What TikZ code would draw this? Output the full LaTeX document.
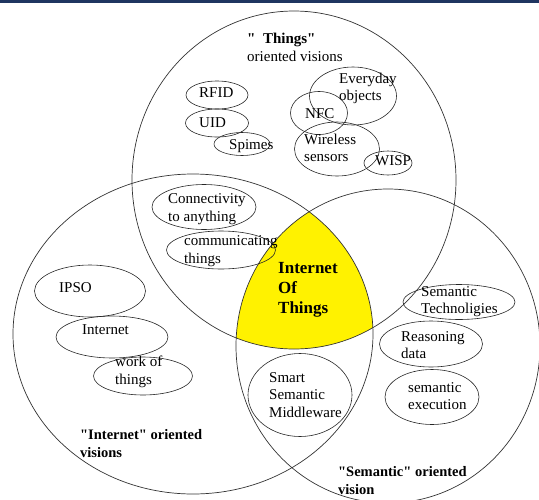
\documentclass[tikz,border=0pt]{standalone}
\usepackage{fontspec}
\setmainfont{Liberation Serif}[Ligatures=TeXOff]
\usetikzlibrary{shapes.geometric}
\definecolor{barblue}{RGB}{31,53,96}
\definecolor{iotyellow}{RGB}{255,242,0}
\tikzset{
  venn/.style={line width=0.7pt, draw=black!80},
  blob/.style={draw=black!85, line width=0.6pt, ellipse, inner sep=0pt},
  lbl/.style={font=\fontsize{15}{17.5}\selectfont, align=left, inner sep=0pt, anchor=west},
  head/.style={font=\bfseries\fontsize{14.5}{18}\selectfont, align=left, inner sep=0pt, anchor=west}
}

\begin{document}
\begin{tikzpicture}[x=1pt,y=-1pt]
      \useasboundingbox (0,0) rectangle (539,499);
      \fill[barblue] (0,0) rectangle (539,2.5);

      % yellow core = all three visions
      \begin{scope}
        \clip (294,180) ellipse [x radius=162pt, y radius=169pt];
        \clip (193,334) ellipse [x radius=180pt, y radius=160pt];
        \fill[iotyellow] (388,346) ellipse [x radius=152pt, y radius=157pt];
      \end{scope}

      % the three visions
      \draw[venn] (294,180) ellipse [x radius=162pt, y radius=169pt];
      \draw[venn] (193,334) ellipse [x radius=180pt, y radius=160pt];
      \draw[venn] (388,346) ellipse [x radius=152pt, y radius=157pt];

      % things
      \node[blob, minimum width=62pt, minimum height=28pt] (rfid) at (217,95) {};
      \node[blob, minimum width=63pt, minimum height=28pt] (uid) at (217,123) {};
      \node[blob, minimum width=56pt, minimum height=23pt] (spimes) at (242,144) {};
      \node[blob, minimum width=87pt, minimum height=58pt] (everyday) at (353,96) {};
      \node[blob, minimum width=57pt, minimum height=43pt] (nfc) at (319,113) {};
      \node[blob, minimum width=85pt, minimum height=54pt] (wireless) at (337,149) {};
      \node[blob, minimum width=48pt, minimum height=24pt] (wisp) at (388,163) {};
      \node[blob, minimum width=104pt, minimum height=45pt] (connect) at (204,207) {};
      \node[blob, minimum width=109pt, minimum height=38pt] (commthings) at (221,250) {};

      \node[lbl] (rfidtxt) at (199,93) {RFID};
      \node[lbl] (uidtxt) at (199,123) {UID};
      \node[lbl] (spimestxt) at (229,146) {Spimes};
      \node[lbl] (everydaytxt) at (339,88.5) {Everyday\\objects};
      \node[lbl] (nfctxt) at (305,114) {NFC};
      \node[lbl] (wirelesstxt) at (304,148) {Wireless\\sensors};
      \node[lbl] (wisptxt) at (375,161) {WISP};
      \node[lbl] (connecttxt) at (168,209) {Connectivity\\to anything};
      \node[lbl] (commtxt) at (184,251) {communicating\\things};

      % internet
      \node[blob, minimum width=111pt, minimum height=52pt] (ipso) at (90,291) {};
      \node[blob, minimum width=112pt, minimum height=42pt] (internet) at (112,337) {};
      \node[blob, minimum width=99pt, minimum height=38pt] (workof) at (143,376) {};

      \node[lbl] (ipsotxt) at (59,288) {IPSO};
      \node[lbl] (internettxt) at (82,330) {Internet};
      \node[lbl] (workoftxt) at (115,372) {work of\\things};

      % semantic
      \node[blob, minimum width=104pt, minimum height=83pt] (middleware) at (300,395) {};
      \node[blob, minimum width=112pt, minimum height=35pt] (semtech) at (459,302) {};
      \node[blob, minimum width=103pt, minimum height=46pt] (reasoning) at (431,344) {};
      \node[blob, minimum width=94pt, minimum height=55pt] (execution) at (432,397) {};

      \node[lbl] (middlewaretxt) at (269,395) {Smart\\Semantic\\Middleware};
      \node[lbl] (semtechtxt) at (421,301.5) {Semantic\\Technoligies};
      \node[lbl] (reasoningtxt) at (401,345) {Reasoning\\data};
      \node[lbl] (executiontxt) at (408,396) {semantic\\execution};

      % headings
      \node[lbl] (thingshead) at (247,47.5) {\textbf{"\ \ Things"}\\oriented visions};
      \node[head] (internethead) at (80,444) {"Internet" oriented\\visions};
      \node[head] (semantichead) at (338,481) {"Semantic" oriented\\vision};
      \node[head, font=\bfseries\fontsize{17}{20}\selectfont] (iot) at (278,290) {Internet\\Of\\Things};
\end{tikzpicture}
\end{document}
